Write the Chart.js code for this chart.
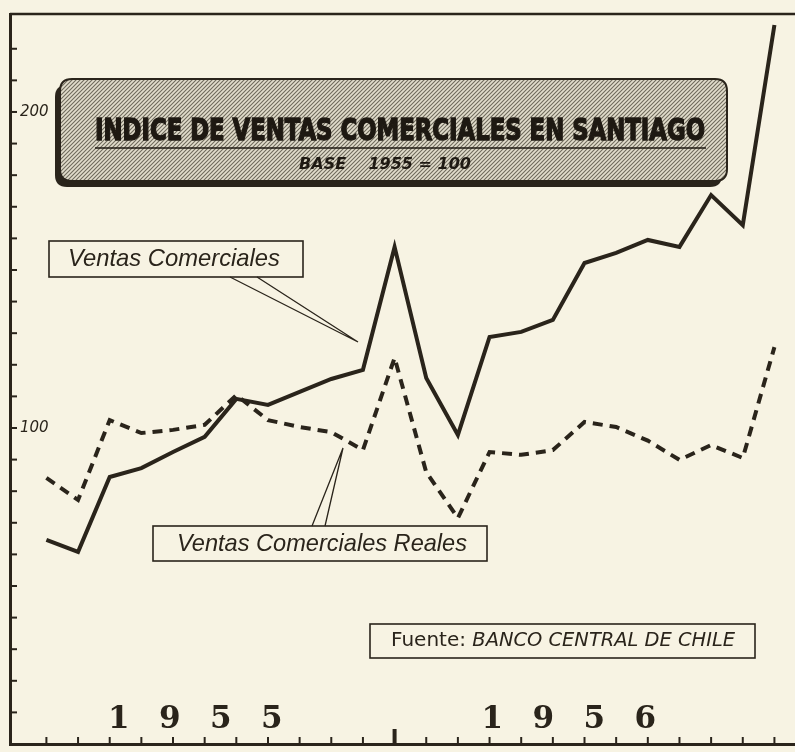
<!DOCTYPE html>
<html lang="es">
  <head>
    <meta charset="UTF-8" />
    <title>Indice de ventas comerciales en Santiago</title>
    <script src="https://cdn.jsdelivr.net/npm/chart.js@4.4.0/dist/chart.umd.min.js"></script>
    <style>
      body {
        margin: 0;
        padding: 0;
        background: #f7f3e3;
      }
      .container {
        position: relative;
        width: 795px;
        height: 752px;
      }
    </style>
  </head>
  <body>
    <div class="container">
      <canvas id="ventas"></canvas>
    </div>
    <script>
      // meses ene 1955 .. dic 1956
      const months = ['E55', 'F55', 'M55', 'A55', 'M55', 'J55', 'J55', 'A55', 'S55', 'O55', 'N55', 'D55',
        'E56', 'F56', 'M56', 'A56', 'M56', 'J56', 'J56', 'A56', 'S56', 'O56', 'N56', 'D56']
      const ventas = [64.6, 60.8, 84.5, 87.3, 92.4, 97.2, 109.2, 107.3, 111.4, 115.5, 118.4, 157.3,
        115.8, 97.8, 128.8, 130.4, 134.2, 152.2, 155.4, 159.5, 157.3, 173.7, 164.2, 227.5]
      const ventasReales = [84.2, 77.2, 102.5, 98.4, 99.4, 101.0, 110.4, 102.5, 100.3, 98.7, 93.0, 122.2,
        86.0, 71.5, 92.4, 91.5, 93.0, 101.9, 100.3, 96.0, 89.9, 94.6, 90.5, 125.6]
      const yTickLabels = [100, 200]
      const years = ['1955', '1956']

      const INK = '#2a241b'
      const PAPER = '#f7f3e3'

      const toPoints = (arr) => arr.map((v, i) => ({ x: i, y: v }))

      const hatch = (() => {
        const c = document.createElement('canvas')
        c.width = 4
        c.height = 4
        const g = c.getContext('2d')
        g.fillStyle = '#e2ddcc'
        g.fillRect(0, 0, 4, 4)
        g.strokeStyle = '#6f6a5c'
        g.lineWidth = 1.1
        g.beginPath()
        g.moveTo(0, 4)
        g.lineTo(4, 0)
        g.moveTo(-1, 1)
        g.lineTo(1, -1)
        g.moveTo(3, 5)
        g.lineTo(5, 3)
        g.stroke()
        return c
      })()

      const roundRect = (ctx, x, y, w, h, r) => {
        ctx.beginPath()
        ctx.moveTo(x + r, y)
        ctx.lineTo(x + w - r, y)
        ctx.quadraticCurveTo(x + w, y, x + w, y + r)
        ctx.lineTo(x + w, y + h - r)
        ctx.quadraticCurveTo(x + w, y + h, x + w - r, y + h)
        ctx.lineTo(x + r, y + h)
        ctx.quadraticCurveTo(x, y + h, x, y + h - r)
        ctx.lineTo(x, y + r)
        ctx.quadraticCurveTo(x, y, x + r, y)
        ctx.closePath()
      }

      const labelBox = (ctx, x, y, w, h) => {
        ctx.fillStyle = PAPER
        ctx.fillRect(x, y, w, h)
        ctx.strokeStyle = INK
        ctx.lineWidth = 1.6
        ctx.strokeRect(x, y, w, h)
      }

      const pointer = (ctx, a, b, tip) => {
        ctx.strokeStyle = INK
        ctx.lineWidth = 1.3
        ctx.beginPath()
        ctx.moveTo(a[0], a[1])
        ctx.lineTo(tip[0], tip[1])
        ctx.lineTo(b[0], b[1])
        ctx.stroke()
      }

      const paper = {
        id: 'paper',
        beforeDraw(chart) {
          const ctx = chart.ctx
          ctx.save()
          ctx.fillStyle = PAPER
          ctx.fillRect(0, 0, chart.width, chart.height)
          ctx.restore()
        },
      }

      const decor = {
        id: 'decor',
        afterDraw(chart) {
          const ctx = chart.ctx
          const area = chart.chartArea
          const xs = chart.scales.x
          const ys = chart.scales.y
          ctx.save()

          // top frame line
          ctx.strokeStyle = INK
          ctx.lineWidth = 2.5
          ctx.beginPath()
          ctx.moveTo(area.left, area.top)
          ctx.lineTo(area.right, area.top)
          ctx.stroke()

          // inward ticks
          ctx.lineWidth = 2
          ys.ticks.forEach((t) => {
            if (t.value % 10 !== 0) return
            const y = ys.getPixelForValue(t.value)
            ctx.beginPath()
            ctx.moveTo(area.left, y)
            ctx.lineTo(area.left + 7, y)
            ctx.stroke()
          })
          months.forEach((m, i) => {
            const x = xs.getPixelForValue(i)
            const big = i === 11
            ctx.lineWidth = big ? 4 : 2
            ctx.beginPath()
            ctx.moveTo(x, area.bottom)
            ctx.lineTo(x, area.bottom - (big ? 15 : 7))
            ctx.stroke()
          })

          // title box
          ctx.fillStyle = INK
          roundRect(ctx, 55, 85, 667, 102, 12)
          ctx.fill()
          roundRect(ctx, 60, 79, 667, 102, 12)
          ctx.fillStyle = ctx.createPattern(hatch, 'repeat')
          ctx.fill()
          ctx.lineWidth = 2
          ctx.strokeStyle = INK
          ctx.stroke()

          ctx.fillStyle = '#1e1912'
          ctx.strokeStyle = '#1e1912'
          ctx.textAlign = 'center'
          ctx.textBaseline = 'alphabetic'
          ctx.font = 'bold 31px "DejaVu Sans Condensed", "DejaVu Sans"'
          ctx.lineWidth = 1.4
          ctx.fillText('INDICE DE VENTAS COMERCIALES EN SANTIAGO', 400, 140, 610)
          ctx.strokeText('INDICE DE VENTAS COMERCIALES EN SANTIAGO', 400, 140, 610)
          ctx.lineWidth = 1.5
          ctx.beginPath()
          ctx.moveTo(95, 148)
          ctx.lineTo(706, 148)
          ctx.stroke()
          ctx.font = 'italic bold 16px "DejaVu Sans"'
          ctx.fillText('BASE    1955 = 100', 385, 169)

          // callouts
          labelBox(ctx, 49, 241, 254, 36)
          pointer(ctx, [230, 277], [257, 277], [358, 342])
          labelBox(ctx, 153, 526, 334, 35)
          pointer(ctx, [312, 526], [325, 526], [343, 448])
          labelBox(ctx, 370, 624, 385, 34)

          ctx.fillStyle = INK
          ctx.textAlign = 'left'
          ctx.textBaseline = 'middle'
          ctx.font = 'italic 24px "Liberation Sans"'
          ctx.fillText('Ventas Comerciales', 68, 259, 212)
          ctx.fillText('Ventas Comerciales Reales', 177, 544, 290)
          ctx.font = '20px "DejaVu Sans"'
          ctx.fillText('Fuente:', 391, 641)
          const w = ctx.measureText('Fuente: ').width
          ctx.font = 'italic 20px "DejaVu Sans"'
          ctx.fillText('BANCO CENTRAL DE CHILE', 391 + w, 641, 735 - 391 - w)

          // years
          ctx.font = 'bold 31px "DejaVu Serif"'
          ctx.textAlign = 'center'
          const yearCenters = [4.7, 16.5]
          years.forEach((yr, k) => {
            const cx = xs.getPixelForValue(yearCenters[k])
            yr.split('').forEach((ch, j) => {
              ctx.fillText(ch, cx + (j - 1.5) * 51, 720)
            })
          })
          ctx.restore()
        },
      }

      new Chart(document.getElementById('ventas'), {
        type: 'line',
        data: {
          datasets: [
            {
              label: 'Ventas Comerciales',
              data: toPoints(ventas),
              borderColor: INK,
              borderWidth: 4,
              pointRadius: 0,
              tension: 0,
            },
            {
              label: 'Ventas Comerciales Reales',
              data: toPoints(ventasReales),
              borderColor: INK,
              borderWidth: 4,
              borderDash: [10, 7],
              pointRadius: 0,
              tension: 0,
            },
          ],
        },
        options: {
          responsive: true,
          maintainAspectRatio: false,
          animation: false,
          layout: { padding: { top: 14, left: 0, right: 0, bottom: 0 } },
          plugins: {
            legend: { display: false },
            tooltip: { enabled: false },
          },
          scales: {
            x: {
              type: 'linear',
              min: -1.15,
              max: 23.65,
              afterFit: (scale) => {
                scale.height = 8
                scale.paddingLeft = 0
                scale.paddingRight = 0
              },
              ticks: { display: false, stepSize: 1 },
              grid: { display: true, drawOnChartArea: false, drawTicks: false },
              border: { display: true, color: INK, width: 3 },
            },
            y: {
              min: 0,
              max: 231,
              afterFit: (scale) => {
                scale.width = 10
                scale.paddingTop = 0
                scale.paddingBottom = 0
              },
              ticks: {
                stepSize: 10,
                mirror: true,
                padding: 10,
                color: INK,
                font: { family: '"DejaVu Sans"', size: 15, style: 'italic' },
                callback: (v) => (yTickLabels.includes(v) ? String(v) : ''),
              },
              grid: { display: true, drawOnChartArea: false, drawTicks: false },
              border: { display: true, color: INK, width: 3 },
            },
          },
        },
        plugins: [paper, decor],
      })
    </script>
  </body>
</html>
